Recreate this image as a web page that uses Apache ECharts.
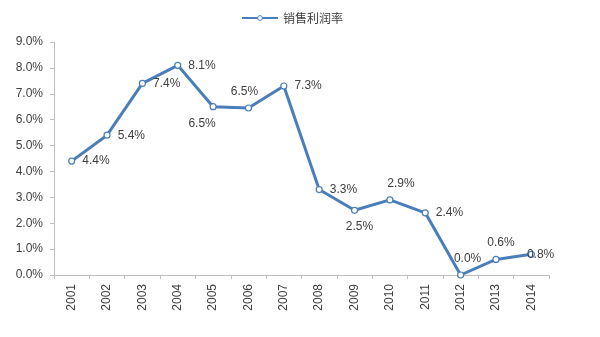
<!DOCTYPE html>
<html><head><meta charset="utf-8">
<script src="https://cdn.jsdelivr.net/npm/echarts@6/dist/echarts.min.js"></script>
<style>html,body{margin:0;padding:0;background:#fff}#c{width:600px;height:337px}</style>
</head><body><div id="c"></div>
<script>
const years = ['2001','2002','2003','2004','2005','2006','2007','2008','2009','2010','2011','2012','2013','2014'];
const margin = [4.4, 5.4, 7.4, 8.1, 6.5, 6.45, 7.3, 3.3, 2.5, 2.9, 2.4, 0.0, 0.6, 0.8];
const seriesName = '销售利润率';
const yTicks = {min: 0, max: 9, interval: 1};

// label placement (style only)
const labelPos = ['right','right','right','right','bottom','top','right','right','bottom','top','right','top','top','right'];
const labelShift = [0,0,0,0,-11,-4,0,0,5,11,0,7,5,-15];

const chart = echarts.init(document.getElementById('c'));
const font = '"Liberation Sans", Arial, "Noto Sans CJK SC", sans-serif';
chart.setOption({
  animation: false,
  legend: {
    data: [seriesName], top: 7, left: 236,
    itemWidth: 36, itemHeight: 6, itemGap: 4,
    lineStyle: {width: 2},
    itemStyle: {borderWidth: 1},
    textStyle: {fontSize: 12, color: '#404040', fontFamily: '"Noto Sans CJK SC", sans-serif'}
  },
  grid: {left: 54, right: 51, top: 42, bottom: 62},
  xAxis: {
    type: 'category', data: years, boundaryGap: true,
    axisLine: {lineStyle: {color: '#bfbfbf'}},
    axisTick: {show: true, alignWithLabel: false, lineStyle: {color: '#bfbfbf'}, length: 4},
    axisLabel: {rotate: 90, fontSize: 12, color: '#404040', fontFamily: font, margin: 9}
  },
  yAxis: {
    type: 'value', min: yTicks.min, max: yTicks.max, interval: yTicks.interval,
    splitLine: {show: false},
    axisLine: {show: true, lineStyle: {color: '#bfbfbf'}},
    axisTick: {show: true, lineStyle: {color: '#bfbfbf'}, length: 4},
    axisLabel: {fontSize: 12, color: '#404040', fontFamily: font, formatter: v => v.toFixed(1) + '%', margin: 11}
  },
  series: [{
    name: seriesName, type: 'line',
    data: margin.map((v, i) => ({value: v, label: {position: labelPos[i], offset: [labelShift[i], 0]}})),
    symbol: 'circle', symbolSize: 6,
    lineStyle: {color: '#4a7ebb', width: 3},
    itemStyle: {color: '#ffffff', borderColor: '#4a7ebb', borderWidth: 1.2},
    label: {show: true, fontSize: 12, color: '#404040', fontFamily: font, distance: 7,
      formatter: p => p.value.toFixed(1) + '%'}
  }],
  color: ['#4a7ebb']
});
</script></body></html>
